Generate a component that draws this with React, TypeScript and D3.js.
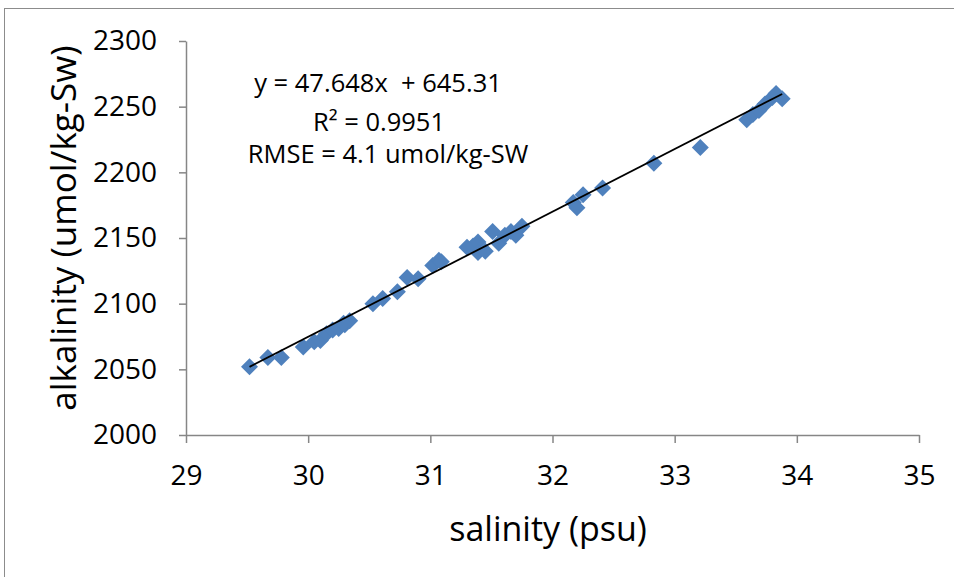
import * as d3 from "d3";
import React, { useRef, useEffect } from "react";

// salinity (psu) and alkalinity (umol/kg-SW)
const salinity = [
  29.52, 29.67, 29.78, 29.96, 30.05, 30.1, 30.15, 30.2, 30.25, 30.3, 30.34, 30.29,
  30.53, 30.61, 30.73, 30.81, 30.9, 31.02, 31.07, 31.09, 31.3, 31.35, 31.39, 31.39,
  31.45, 31.51, 31.56, 31.61, 31.66, 31.7, 31.75, 32.17, 32.2, 32.25, 32.41, 32.83,
  33.21, 33.59, 33.64, 33.69, 33.74, 33.8, 33.83, 33.88,
];
const alkalinity = [
  2052, 2059, 2059, 2067, 2071, 2072, 2077, 2080, 2081, 2084, 2087, 2085,
  2100, 2104, 2109, 2120, 2119, 2129, 2133, 2132, 2143, 2144, 2147, 2139,
  2140, 2155, 2146, 2152, 2155, 2152, 2159, 2177, 2173, 2183, 2188, 2207,
  2219, 2240, 2244, 2247, 2252, 2257, 2260, 2256,
];
const xTicks = [29, 30, 31, 32, 33, 34, 35];
const yTicks = [2000, 2050, 2100, 2150, 2200, 2250, 2300];
const slope = 47.648;
const intercept = 645.31;
const annotation = ["y = 47.648x\u00a0 + 645.31", "R\u00b2 = 0.9951", "RMSE = 4.1 umol/kg-SW"];

const width = 954,
  height = 577;
const margin = { top: 41, right: 35, bottom: 142, left: 186 };
const font = "'Open Sans', sans-serif";

function ScatterPlot() {
  const ref = useRef<SVGSVGElement>(null);

  useEffect(() => {
    const svg = d3.select(ref.current);
    svg.selectAll("*").remove();

    svg
      .append("rect")
      .attr("x", 4.5)
      .attr("y", 8.5)
      .attr("width", 1000)
      .attr("height", 1000)
      .attr("fill", "white")
      .attr("stroke", "#8c8c8c");

    const x = d3
      .scaleLinear()
      .domain([29, 35])
      .range([margin.left, width - margin.right]);
    const y = d3
      .scaleLinear()
      .domain([2000, 2300])
      .range([height - margin.bottom, margin.top]);

    // axes
    const xAxis = svg
      .append("g")
      .attr("transform", `translate(0,${height - margin.bottom})`)
      .call(
        d3.axisBottom(x).tickValues(xTicks).tickFormat(d3.format("d")).tickSize(8).tickSizeOuter(0).tickPadding(22)
      );
    const yAxis = svg
      .append("g")
      .attr("transform", `translate(${margin.left},0)`)
      .call(
        d3.axisLeft(y).tickValues(yTicks).tickFormat(d3.format("d")).tickSize(7).tickSizeOuter(0).tickPadding(22)
      );

    [xAxis, yAxis].forEach((g) => {
      g.select(".domain").attr("stroke", "#868686").attr("stroke-width", 1.5);
      g.selectAll(".tick line").attr("stroke", "#868686").attr("stroke-width", 1.5);
      g.selectAll(".tick text")
        .attr("fill", "#000")
        .style("font-family", font)
        .style("font-size", "28px");
    });

    // points
    const pts = salinity.map((s, i) => ({ s, a: alkalinity[i] }));
    svg
      .append("g")
      .selectAll("path")
      .data(pts)
      .enter()
      .append("path")
      .attr("transform", (d) => `translate(${x(d.s)},${y(d.a)})`)
      .attr("d", "M0,-8.5L8.5,0L0,8.5L-8.5,0Z")
      .attr("fill", "#4F81BD");

    // trend line
    const [x0, x1] = d3.extent(salinity) as [number, number];
    svg
      .append("line")
      .attr("x1", x(x0))
      .attr("y1", y(slope * x0 + intercept))
      .attr("x2", x(x1))
      .attr("y2", y(slope * x1 + intercept))
      .attr("stroke", "#000")
      .attr("stroke-width", 1.8);

    // annotation
    const ann = svg
      .append("g")
      .style("font-family", font)
      .style("font-size", "25.5px")
      .attr("text-anchor", "middle");
    ann.append("text").attr("x", 378).attr("y", 92).text(annotation[0]);
    ann.append("text").attr("x", 379).attr("y", 131).text(annotation[1]);
    ann.append("text").attr("x", 388).attr("y", 163).text(annotation[2]);

    // axis titles
    svg
      .append("text")
      .attr("x", 548)
      .attr("y", 541)
      .attr("text-anchor", "middle")
      .style("font-family", font)
      .style("font-size", "34px")
      .text("salinity (psu)");
    svg
      .append("text")
      .attr("transform", `translate(76,228)rotate(-90)`)
      .attr("text-anchor", "middle")
      .style("font-family", font)
      .style("font-size", "35px")
      .text("alkalinity (umol/kg-Sw)");
  }, []);

  return (
    <svg
      ref={ref}
      width={width}
      height={height}
      style={{ position: "absolute", left: 0, top: 0, background: "white" }}
    ></svg>
  );
}

export default function App() {
  return <ScatterPlot />;
}
